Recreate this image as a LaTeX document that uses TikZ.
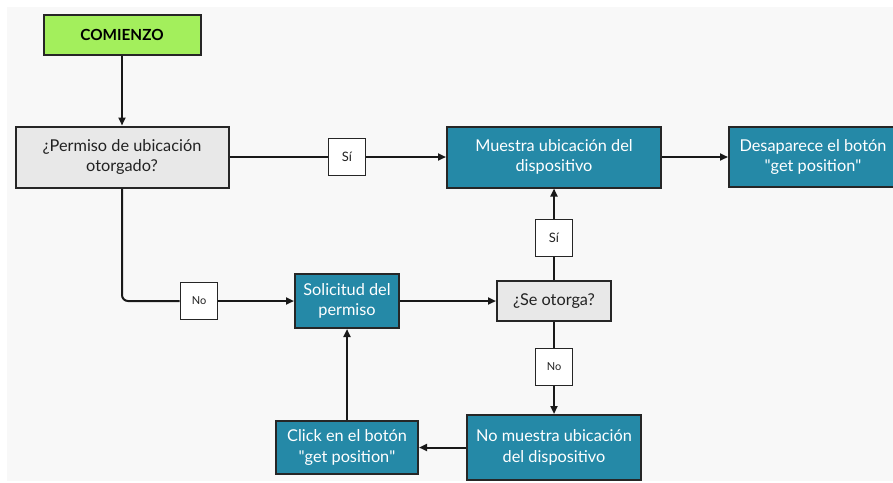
\documentclass[tikz,border=0pt]{standalone}
\usepackage{fontspec}
\setmainfont{Lato}
\usetikzlibrary{arrows.meta}
\definecolor{teal1}{HTML}{2589A7}
\definecolor{grayq}{HTML}{E8E8E8}
\definecolor{greenst}{HTML}{A3EF5C}
\definecolor{bgc}{HTML}{F8F8F8}
\definecolor{txt}{HTML}{222222}
\newcommand{\dq}{{\XeTeXglyph\XeTeXcharglyph"22\relax}}
\begin{document}
\begin{tikzpicture}[x=1pt,y=-1pt,
  box/.style={draw=black!85,line width=2pt,align=center,inner sep=2pt,font=\fontsize{16.3}{20.5}\selectfont},
  tealbox/.style={box,fill=teal1,text=white},
  qbox/.style={box,fill=grayq,text=txt},
  lbl/.style={draw=black!85,line width=1.8pt,fill=white,minimum width=37pt,minimum height=37pt,inner sep=0pt,text=txt},
  conn/.style={line width=2pt,draw=black!90},
  arr/.style={conn,-{Triangle[length=8pt,width=7pt]}}]
\useasboundingbox (0,0) rectangle (893,482);
\fill[white] (0,0) rectangle (893,482);
\fill[bgc] (7,7) rectangle (893,481);
\node[box,fill=greenst,text=black,font=\fontsize{15.3}{18}\selectfont\bfseries,minimum width=157pt,minimum height=40pt] (start) at (122,35) {COMIENZO};
\node[qbox,minimum width=213pt,minimum height=61pt] (perm) at (122,157) {¿Permiso de ubicación\\otorgado?};
\node[tealbox,minimum width=214pt,minimum height=61pt] (muestra) at (554,157) {Muestra ubicación del\\dispositivo};
\node[tealbox,minimum width=168pt,minimum height=60pt] (desap) at (813,157) {Desaparece el botón\\\dq get position\dq};
\node[lbl,font=\fontsize{13}{15}\selectfont] (si1) at (347,157) {Sí};
\node[lbl,font=\fontsize{13}{15}\selectfont] (si2) at (554,238) {Sí};
\node[qbox,minimum width=114pt,minimum height=40pt] (seot) at (554,301) {¿Se otorga?};
\node[lbl,font=\fontsize{11}{13}\selectfont] (no2) at (554,367) {No};
\node[tealbox,minimum width=174pt,minimum height=65pt] (nomu) at (554,447.5) {No muestra ubicación\\del dispositivo};
\node[tealbox,minimum width=142pt,minimum height=53pt] (click) at (347,447.5) {Click en el botón\\\dq get position\dq};
\node[tealbox,minimum width=104pt,minimum height=54pt] (soli) at (347,301) {Solicitud del\\permiso};
\node[lbl,font=\fontsize{11}{13}\selectfont] (no1) at (199,301) {No};
\draw[arr] (start) -- (perm);
\draw[conn] (perm) -- (si1);
\draw[arr] (si1) -- (muestra);
\draw[arr] (muestra) -- (desap.west |- muestra.east);
\draw[conn,rounded corners=6pt] (perm.south) |- (no1.west);
\draw[arr] (no1) -- (soli);
\draw[arr] (soli) -- (seot);
\draw[conn] (seot) -- (si2);
\draw[arr] (si2) -- (muestra);
\draw[conn] (seot) -- (no2);
\draw[arr] (no2) -- (nomu);
\draw[arr] (nomu) -- (click);
\draw[arr] (click) -- (soli);
\end{tikzpicture}
\end{document}
